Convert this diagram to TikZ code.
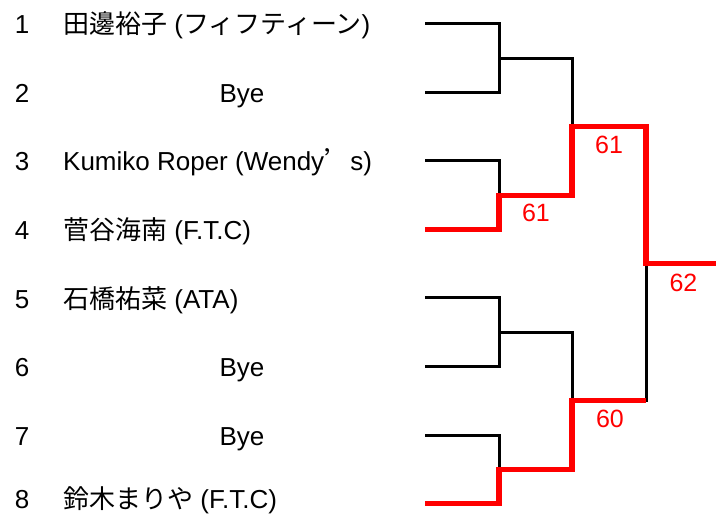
\documentclass[tikz,border=0pt]{standalone}
\usepackage{fontspec}
\setmainfont{Liberation Sans}
\newfontfamily\jp{Noto Sans CJK JP}
\usepackage{tikz}
\usetikzlibrary{calc}

\begin{document}
\begin{tikzpicture}[x=1pt,y=-1pt,
	font=\fontsize{26}{30}\selectfont,
	seed/.style={anchor=base,inner sep=0pt},
	player/.style={anchor=base west,inner sep=0pt},
	bye/.style={anchor=base,inner sep=0pt},
	loser/.style={line width=3pt,black},
	winner/.style={line width=5.2pt,red},
	score/.style={red,inner sep=0pt,font=\fontsize{25}{28}\selectfont}]
				\useasboundingbox (0,0) rectangle (716,516);
				\coordinate (e1) at (425,24);
				\coordinate (e2) at (425,92.5);
				\coordinate (e3) at (425,161);
				\coordinate (e4) at (425,229.5);
				\coordinate (e5) at (425,298);
				\coordinate (e6) at (425,366.5);
				\coordinate (e7) at (425,435);
				\coordinate (e8) at (425,503.5);
				\coordinate (m1) at ($(e1)!0.5!(e2)+(74,0)$);
				\coordinate (m2) at ($(e3)!0.5!(e4)+(74,0)$);
				\coordinate (m3) at ($(e5)!0.5!(e6)+(74,0)$);
				\coordinate (m4) at ($(e7)!0.5!(e8)+(74,0)$);
				\coordinate (s1) at ($(m1)!0.5!(m2)+(73,0)$);
				\coordinate (s2) at ($(m3)!0.5!(m4)+(73,0)$);
				\coordinate (f) at ($(s1)!0.5!(s2)+(74,0)$);
				\coordinate (w) at ($(f)+(70,0)$);
				\node[seed] (n1) at (22,33.5) {1};
				\node[seed] (n2) at (22,102.5) {2};
				\node[seed] (n3) at (22,171) {3};
				\node[seed] (n4) at (22,239.5) {4};
				\node[seed] (n5) at (22,308.5) {5};
				\node[seed] (n6) at (22,376.5) {6};
				\node[seed] (n7) at (22,445) {7};
				\node[seed] (n8) at (22,508) {8};
				\node[player] (p1) at (63,33.5) {{\jp 田邊裕子} ({\jp フィフティーン})};
				\node[bye] (p2) at (242,102.5) {Bye};
				\node[player] (p3) at (63,171) {Kumiko Roper (Wendy{\jp\addfontfeature{RawFeature=+fwid}’}s)};
				\node[player] (p4) at (63,239.5) {{\jp 菅谷海南} (F.T.C)};
				\node[player] (p5) at (63,308.5) {{\jp 石橋祐菜} (ATA)};
				\node[bye] (p6) at (242,376.5) {Bye};
				\node[bye] (p7) at (242,445) {Bye};
				\node[player] (p8) at (63,508) {{\jp 鈴木まりや} (F.T.C)};
				\draw[loser] (e1) -| (m1) |- (e2);
				\draw[loser] (e3) -| (m2);
				\draw[loser] (e5) -| (m3) |- (e6);
				\draw[loser] (e7) -| (m4);
				\draw[loser] (m1) -| (s1);
				\draw[loser] (m3) -| (s2);
				\draw[loser] (s2) -| (f);
				\draw[winner] (e4) -| (m2) -| (s1) -| (f) -- (w);
				\draw[winner] (e8) -| (m4) -| (s2) -- (s2 -| f);
				\node[score] (r1) at (536,213) {61};
				\node[score] (r2) at (609,145) {61};
				\node[score] (r3) at (610,419) {60};
				\node[score] (r4) at (683.5,282.5) {62};
			\end{tikzpicture}
\end{document}
